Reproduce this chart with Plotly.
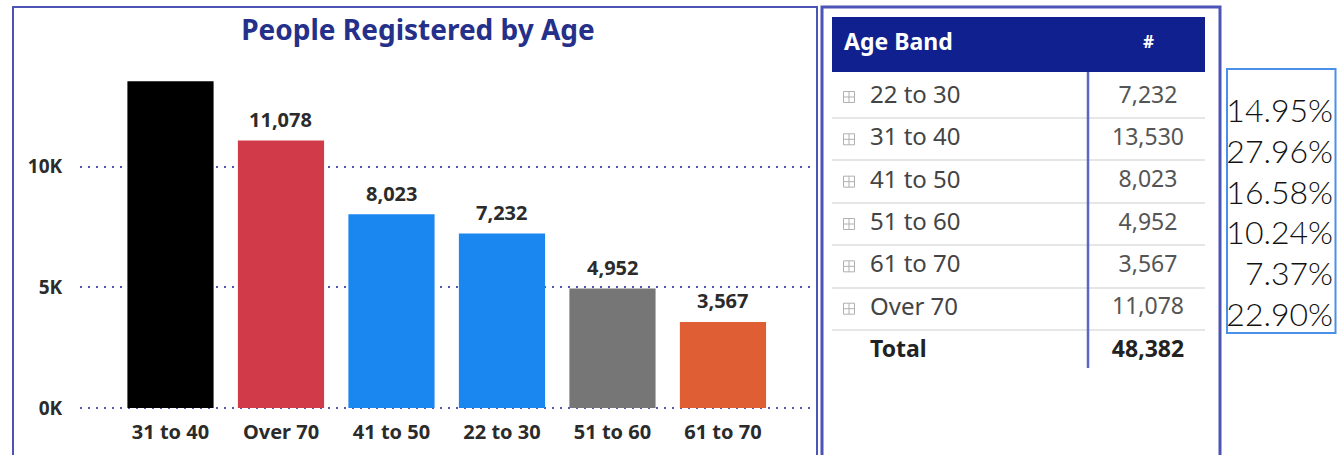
import plotly.graph_objects as go

# ---------------- data ----------------
age_bands = ["22 to 30", "31 to 40", "41 to 50", "51 to 60", "61 to 70", "Over 70"]
registered = [7232, 13530, 8023, 4952, 3567, 11078]
total_label = "Total"
total_registered = 48382
share_labels = ["14.95%", "27.96%", "16.58%", "10.24%", "7.37%", "22.90%"]
bar_colors = {
    "31 to 40": "#000000",
    "Over 70": "#d13a48",
    "41 to 50": "#1a86f0",
    "22 to 30": "#1a86f0",
    "51 to 60": "#767676",
    "61 to 70": "#e05e33",
}
y_tick_vals = [0, 5000, 10000]
y_tick_text = ["0K", "5K", "10K"]
hidden_labels = ["31 to 40"]  # its data label is not shown in the reference

# ---------------- helpers ----------------
W, H = 1337, 455


def px(x):
    return x / W


def py(y):
    return 1 - y / H


NAVY = "#4c55b6"
FONT = "Noto Sans"

order = sorted(range(len(age_bands)), key=lambda i: -registered[i])
bar_cats = [age_bands[i] for i in order]
bar_vals = [registered[i] for i in order]

fig = go.Figure()

# ---------------- bar chart ----------------
fig.add_trace(go.Bar(
    x=bar_cats, y=bar_vals, xaxis="x", yaxis="y",
    marker=dict(color=[bar_colors[c] for c in bar_cats], line=dict(width=0)),
    width=0.78, showlegend=False,
))
for c, v in zip(bar_cats, bar_vals):
    if c in hidden_labels:
        continue
    fig.add_annotation(
        x=c, y=v, xref="x", yref="y", text=f"<b>{v:,}</b>", showarrow=False,
        yshift=21, yanchor="middle",
        font=dict(family=FONT, size=20, color="#2b2b2b"),
    )

# ---------------- table ----------------
n = len(age_bands)
row_idx = list(range(n))
LABEL_X, ICON_X, VALUE_X, SEP_X = 870, 849, 1148, 1088

fig.add_trace(go.Scatter(
    x=[ICON_X] * n, y=row_idx, xaxis="x2", yaxis="y2", mode="markers",
    marker=dict(symbol="square-cross-open", size=11, color="#b0b0b0", line=dict(width=1)),
    showlegend=False, hoverinfo="skip",
))
fig.add_trace(go.Scatter(
    x=[LABEL_X] * n, y=row_idx, xaxis="x2", yaxis="y2", mode="text",
    text=age_bands, textposition="middle right",
    textfont=dict(family=FONT, size=24, color="#444444"),
    showlegend=False, hoverinfo="skip",
))
fig.add_trace(go.Scatter(
    x=[VALUE_X] * n, y=row_idx, xaxis="x2", yaxis="y2", mode="text",
    text=[f"{v:,}" for v in registered], textposition="middle center",
    textfont=dict(family=FONT, size=23, color="#555555"),
    showlegend=False, hoverinfo="skip",
))
fig.add_trace(go.Scatter(
    x=[LABEL_X, VALUE_X], y=[n, n], xaxis="x2", yaxis="y2", mode="text",
    text=[f"<b>{total_label}</b>", f"<b>{total_registered:,}</b>"],
    textposition=["middle right", "middle center"],
    textfont=dict(family=FONT, size=23, color="#222222"),
    showlegend=False, hoverinfo="skip",
))

# ---------------- share column ----------------
fig.add_trace(go.Scatter(
    x=[1] * n, y=row_idx, xaxis="x3", yaxis="y3", mode="text",
    text=share_labels, textposition="middle left",
    textfont=dict(family="Lato", size=32, color="#111111", weight=300),
    showlegend=False, hoverinfo="skip",
))

# ---------------- layout ----------------
y_top_val = (409.5 - 75) / 0.02425
fig.update_layout(
    width=W, height=H,
    margin=dict(l=0, r=0, t=0, b=0),
    paper_bgcolor="white", plot_bgcolor="rgba(0,0,0,0)",
    font=dict(family=FONT),
    bargap=0.22,
    title=dict(
        text="<b>People Registered by Age</b>", x=px(418), y=py(30),
        xanchor="center", yanchor="middle", xref="paper", yref="paper",
        font=dict(family=FONT, size=28, color="#25308a"),
    ),
    xaxis=dict(
        domain=[px(80), px(816)], type="category", range=[-0.819, 5.842],
        showgrid=False, zeroline=False, showline=False,
        ticks="outside", ticklen=4, tickcolor="rgba(0,0,0,0)",
        tickfont=dict(family=FONT, size=20, color="#2b2b2b", weight="bold"),
        fixedrange=True, automargin=False,
    ),
    yaxis=dict(
        domain=[py(409.5), py(75)], range=[-60, y_top_val],
        tickvals=y_tick_vals, ticktext=y_tick_text,
        showgrid=True, gridcolor="#5357b4", gridwidth=2, griddash="2px,6px",
        zeroline=False, showline=False,
        ticks="outside", ticklen=13, tickcolor="rgba(0,0,0,0)",
        tickfont=dict(family=FONT, size=19, color="#2b2b2b", weight="bold"),
        fixedrange=True, automargin=False,
    ),
    xaxis2=dict(
        domain=[px(832), px(1205)], range=[832, 1205], anchor="y2",
        visible=False, fixedrange=True,
    ),
    yaxis2=dict(
        domain=[py(372.2), py(75.8)], range=[n + 0.5, -0.5], anchor="x2",
        tickvals=[i + 0.5 for i in range(n - 1)] + [n - 0.5], showticklabels=False,
        showgrid=True, gridcolor="#e6e6e6", gridwidth=2,
        zeroline=False, showline=False, ticks="", fixedrange=True,
    ),
    xaxis3=dict(
        domain=[px(1226), px(1333)], range=[0, 1], anchor="y3",
        visible=False, fixedrange=True,
    ),
    yaxis3=dict(
        domain=[py(338.4), py(93.6)], range=[n - 0.5, -0.5], anchor="x3",
        visible=False, fixedrange=True,
    ),
)

shapes = [
    # left panel border
    dict(type="rect", xref="paper", yref="paper", x0=px(13), x1=px(817), y0=-0.1, y1=py(7),
         line=dict(color=NAVY, width=2), layer="below"),
    # right panel border
    dict(type="rect", xref="paper", yref="paper", x0=px(822), x1=px(1220), y0=-0.1, y1=py(7),
         line=dict(color=NAVY, width=3), layer="below"),
    # table header background
    dict(type="rect", xref="paper", yref="paper", x0=px(832), x1=px(1205), y0=py(72), y1=py(17),
         fillcolor="#10208e", line=dict(width=0), layer="below"),
    # column separator
    dict(type="line", xref="x2", yref="paper", x0=SEP_X, x1=SEP_X, y0=py(368), y1=py(72),
         line=dict(color="#5d66c2", width=2.5)),
    # share box
    dict(type="rect", xref="paper", yref="paper", x0=px(1227), x1=px(1335.5), y0=py(333), y1=py(69),
         line=dict(color="#4a8fe8", width=2)),
]
fig.update_layout(shapes=shapes)

fig.add_annotation(
    x=px(842), y=py(41), xref="paper", yref="paper", text="<b>Age Band</b>",
    showarrow=False, xanchor="left", yanchor="middle",
    font=dict(family=FONT, size=23, color="white"),
)
fig.add_annotation(
    x=VALUE_X, y=py(41), xref="x2", yref="paper", text="<b>#</b>",
    showarrow=False, xanchor="center", yanchor="middle",
    font=dict(family=FONT, size=17, color="white"),
)

fig.write_html(
    "out.html",
    config={"displayModeBar": False},
    post_script=(
        "document.body.style.margin='0';"
        "document.body.style.overflow='hidden';"
        "document.documentElement.style.overflow='hidden';"
    ),
)
